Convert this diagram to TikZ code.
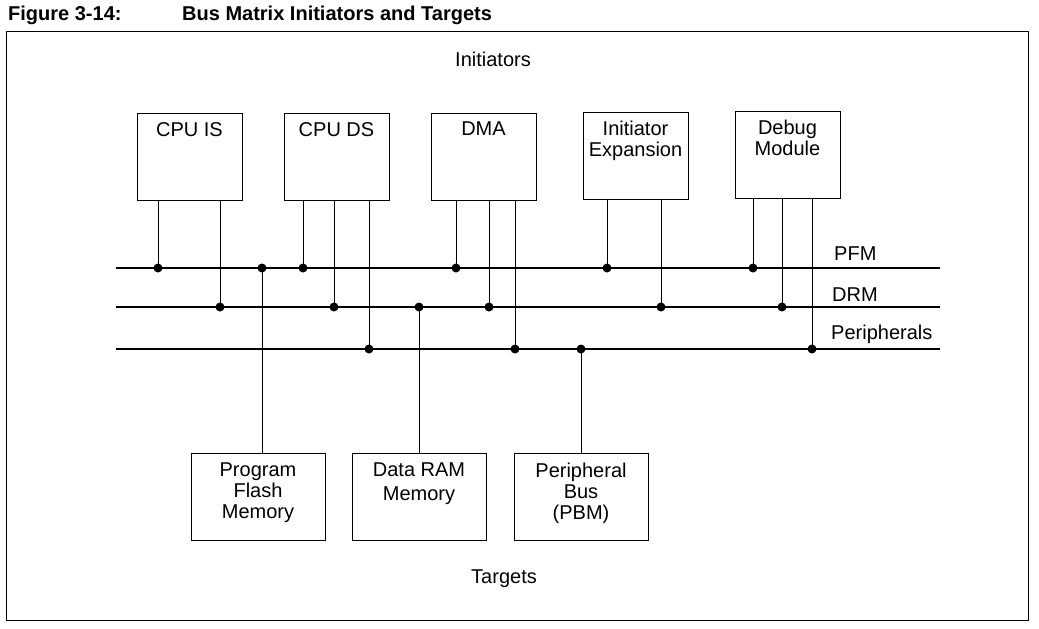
\documentclass[tikz,border=0pt]{standalone}
\usepackage{fontspec}
\setmainfont{Liberation Sans}
\begin{document}
\begin{tikzpicture}[x=1pt,y=-1pt,
 box/.style={draw,line width=1pt,anchor=north west,inner sep=0pt},
 lbl/.style={font=\fontsize{20}{21}\selectfont,align=center,anchor=north,inner sep=0pt},
 side/.style={font=\fontsize{20}{21}\selectfont,anchor=west,inner sep=0pt},
 bus/.style={line width=2.6pt},
 tap/.style={line width=1pt},
 dot/.style={circle,fill,inner sep=0pt,minimum size=9pt}]
\useasboundingbox (0,0) rectangle (1039,629);
\node[anchor=west,font=\bfseries\fontsize{20}{21}\selectfont,inner sep=0pt] (t1) at (8,15) {Figure 3-14:};
\node[anchor=west,font=\bfseries\fontsize{20}{21}\selectfont,inner sep=0pt] (t2) at (182,15) {Bus Matrix Initiators and Targets};
\draw[line width=1pt] (6,31) rectangle (1028,620);
\node[lbl] (ini) at (493,52) {Initiators};
\node[lbl] (tar) at (504,570) {Targets};
\foreach \n/\x/\y/\t in {cis/137/113/{CPU IS},cds/284/113/{CPU DS},dma/431/113/{DMA},iex/583/112/{Initiator\\Expansion},dbg/735/111/{Debug\\Module}}{
 \node[box,minimum width=105pt,minimum height=87pt] (\n) at (\x,\y) {};
 \node[lbl] (\n t) at (\x+52.5,\y+9) {\t};
}
\foreach \n/\x/\t in {pfl/191/{Program\\Flash\\Memory},drm/352/{Data RAM\\[3pt]Memory},pbm/514/{Peripheral\\Bus\\(PBM)}}{
 \node[box,minimum width=134pt,minimum height=87pt] (\n) at (\x,453) {};
 \node[lbl] (\n t) at (\x+67,463) {\t};
}
\coordinate (p0) at (116,268); \coordinate (p1) at (940,268);
\coordinate (d0) at (116,307); \coordinate (d1) at (940,307);
\coordinate (r0) at (116,349); \coordinate (r1) at (940,349);
\draw[bus] (p0) -- (p1); \draw[bus] (d0) -- (d1); \draw[bus] (r0) -- (r1);
\node[side] (lp) at (834,254) {PFM};
\node[side] (ld) at (832,295) {DRM};
\node[side] (lr) at (831,334) {Peripherals};
\foreach \n/\x/\y in {cis/158/268,cis/220/307,cds/303/268,cds/334/307,cds/369/349,dma/456/268,dma/489/307,dma/515/349,iex/607/268,iex/661/307,dbg/753/268,dbg/782/307,dbg/812/349}{
 \draw[tap] (\n.south -| \x,0) -- (\x,\y) node[dot] {};
}
\draw[tap] (262,268) node[dot] {} -- (pfl.north -| 262,0);
\draw[tap] (419,307) node[dot] {} -- (drm.north -| 419,0);
\draw[tap] (581,349) node[dot] {} -- (pbm.north -| 581,0);
\end{tikzpicture}
\end{document}
